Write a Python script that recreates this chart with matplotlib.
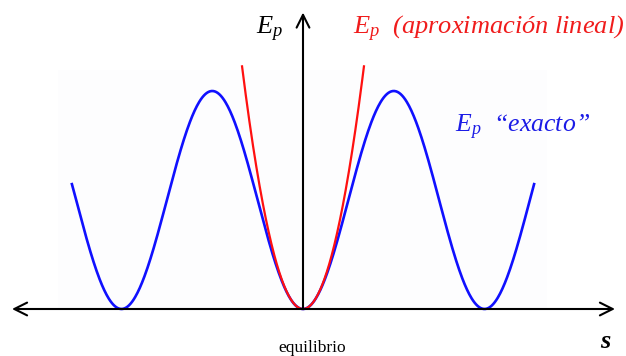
import numpy as np
import matplotlib.pyplot as plt
from matplotlib.patches import Rectangle

plt.rcParams['mathtext.fontset'] = 'custom'
plt.rcParams['mathtext.it'] = 'Liberation Serif:italic'
plt.rcParams['mathtext.rm'] = 'Liberation Serif'

# Energía potencial de un péndulo: exacta (1 - cos s) frente a su aproximación s^2/2
S_EXACT = (-8.0, 8.0)        # tramo dibujado de la curva exacta (rad)
S_LINEAL = (-2.11, 2.11)     # tramo dibujado de la parábola
EP_MAX = 2.0                 # máximo de Ep "exacto" (unidades arbitrarias)

PX_PER_S = 181.5 / (2 * np.pi)   # escala horizontal del esquema
PX_PER_E = 109.0                 # escala vertical
W, H = 626, 356
X0, Y0 = 303, 47                 # origen (equilibrio) en píxeles desde abajo a la izquierda


def ep_exacto(s):
    return EP_MAX / 2 * (1 - np.cos(s))


def ep_lineal(s):
    return EP_MAX / 4 * s ** 2


def sx(px):
    return (px - X0) / PX_PER_S


fig = plt.figure(figsize=(W / 100, H / 100), dpi=100)
ax = fig.add_axes([0, 0, 1, 1])
ax.set_xlim(sx(0), sx(W))
ax.set_ylim(-Y0 / PX_PER_E, (H - Y0) / PX_PER_E)
ax.axis('off')

# fondo muy tenue detrás de las curvas
ax.add_patch(Rectangle((sx(58), -0.01), (547 - 58) / PX_PER_S, 2.2,
                       facecolor='#fdfdfe', edgecolor='none', zorder=0))

s1 = np.linspace(*S_EXACT, 600)
ax.plot(s1, ep_exacto(s1), color='#1010ff', lw=1.9, zorder=2)
s2 = np.linspace(*S_LINEAL, 300)
ax.plot(s2, ep_lineal(s2), color='#ff1010', lw=1.6, zorder=3)

# ejes con flechas abiertas
arrow = dict(arrowstyle='<->', color='black', lw=1.5, mutation_scale=23,
             shrinkA=0, shrinkB=0)
ax.annotate('', xy=(sx(615), 0), xytext=(sx(12), 0), arrowprops=arrow, zorder=4)
ax.annotate('', xy=(0, 2.72), xytext=(0, 0),
            arrowprops=dict(arrow, arrowstyle='->'), zorder=4)

serif = 'Liberation Serif'
ax.text(sx(270), 2.52, r'$E_p$', fontsize=19, family=serif,
        ha='center', va='baseline', color='black')
ax.text(sx(353), 2.52, r'$E_p$  (aproximación lineal)', fontsize=19,
        family=serif, style='italic', ha='left', va='baseline', color='#f01c1c')
ax.text(sx(455), 1.62, r'$E_p$  “exacto”', fontsize=18.5,
        family=serif, style='italic', ha='left', va='baseline', color='#1c1ce6')
ax.text(sx(605), -0.30, 's', fontsize=19, family=serif,
        style='italic', weight='bold', ha='center', va='center')
ax.text(sx(312), -0.36, 'equilibrio', fontsize=12.5, family=serif,
        ha='center', va='center')

fig.savefig('out.png', dpi=100, facecolor='white')
